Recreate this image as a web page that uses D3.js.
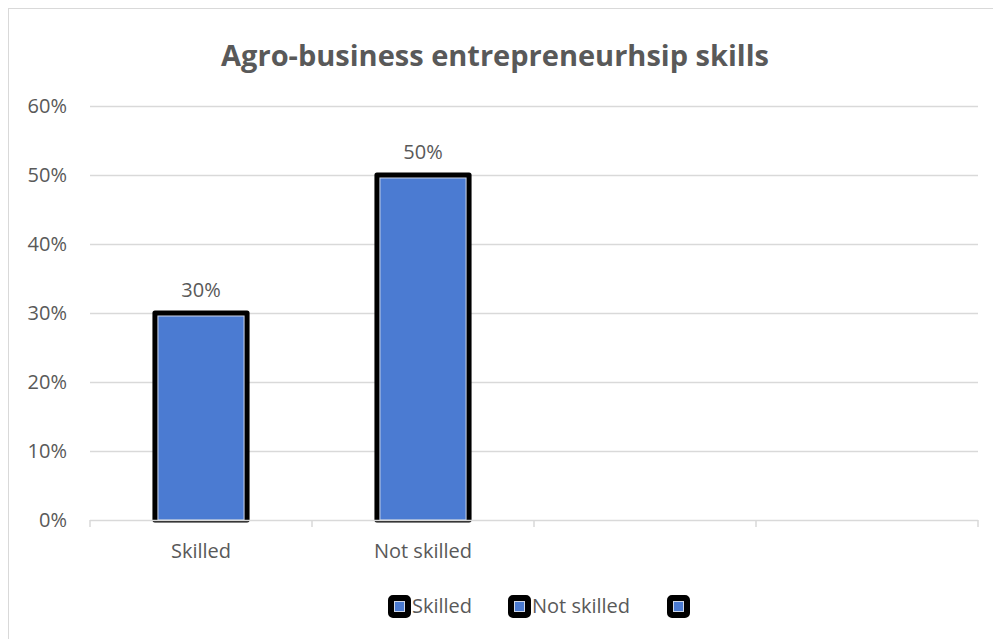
<!DOCTYPE html>
<html>
<head>
<meta charset="utf-8">
<script src="https://cdn.jsdelivr.net/npm/d3@7"></script>
<style>
  html, body { margin: 0; padding: 0; background: #fff; }
  svg text { font-family: "Open Sans", "Noto Sans", sans-serif; fill: #595959; }
</style>
</head>
<body>
<svg id="chart" width="993" height="639"></svg>
<script>
// chart data
const categories = ["Skilled", "Not skilled", "", ""];
const values = [0.30, 0.50, null, null];
const legendLabels = ["Skilled", "Not skilled", ""];
const yTicks = [0, 0.1, 0.2, 0.3, 0.4, 0.5, 0.6];
const title = "Agro-business entrepreneurhsip skills";

const svg = d3.select("svg#chart");
const W = 993, H = 639;
const m = { left: 90, right: 15, top: 106, bottom: 119 };

// frame (right and bottom edges fall outside the picture)
svg.append("rect")
  .attr("x", 8.5).attr("y", 8.5)
  .attr("width", W + 20).attr("height", H + 20)
  .attr("fill", "#fff").attr("stroke", "#d9d9d9").attr("stroke-width", 1);

svg.append("text")
  .attr("x", 495).attr("y", 66)
  .attr("text-anchor", "middle")
  .style("font-size", "29px").style("font-weight", "bold")
  .text(title);

const x = d3.scaleBand()
  .domain(d3.range(categories.length))
  .range([m.left, W - m.right]);

const y = d3.scaleLinear()
  .domain([0, 0.6])
  .range([H - m.bottom, m.top]);

// gridlines
svg.append("g")
  .selectAll("line")
  .data(yTicks.filter(d => d > 0))
  .join("line")
  .attr("x1", m.left).attr("x2", W - m.right)
  .attr("y1", d => Math.round(y(d)) + 0.5).attr("y2", d => Math.round(y(d)) + 0.5)
  .attr("stroke", "#d9d9d9").attr("stroke-width", 1.5);

// y labels
let yAxis = d3.axisLeft(y).tickValues(yTicks).tickFormat(d3.format(".0%")).tickSize(0).tickPadding(23);
let gy = svg.append("g").attr("transform", `translate(${m.left},0)`).call(yAxis);
gy.select(".domain").remove();
gy.selectAll("text").style("font-size", "20px").style("fill", "#595959").attr("font-family", null);

// bars
const barW = x.bandwidth() * 0.415;
const bars = svg.append("g")
  .selectAll("g")
  .data(values.map((v, i) => ({ v, i })).filter(d => d.v != null))
  .join("g");

bars.append("rect")
  .attr("x", d => x(d.i) + x.bandwidth() / 2 - barW / 2)
  .attr("y", d => y(d.v))
  .attr("width", barW)
  .attr("height", d => y(0) - y(d.v))
  .attr("fill", "#000").attr("stroke", "#000").attr("stroke-width", 5)
  .attr("stroke-linejoin", "round");

bars.append("rect")
  .attr("x", d => x(d.i) + x.bandwidth() / 2 - barW / 2 + 3)
  .attr("y", d => y(d.v) + 3)
  .attr("width", barW - 6)
  .attr("height", d => y(0) - y(d.v) - 3)
  .attr("fill", "#4b7bd2").attr("stroke", "#cdd6e8").attr("stroke-width", 1);

bars.append("text")
  .attr("x", d => x(d.i) + x.bandwidth() / 2)
  .attr("y", d => y(d.v) - 16)
  .attr("text-anchor", "middle")
  .style("font-size", "20px")
  .text(d => d3.format(".0%")(d.v));

// x axis
const xAxisLine = svg.append("g");
xAxisLine.append("line")
  .attr("x1", m.left).attr("x2", W - m.right)
  .attr("y1", y(0) + 0.5).attr("y2", y(0) + 0.5)
  .attr("stroke", "#d9d9d9").attr("stroke-width", 1.5);
xAxisLine.selectAll("line.tick")
  .data(d3.range(categories.length + 1))
  .join("line").attr("class", "tick")
  .attr("x1", i => i < categories.length ? x(i) : x.range()[1])
  .attr("x2", i => i < categories.length ? x(i) : x.range()[1])
  .attr("y1", y(0)).attr("y2", y(0) + 7)
  .attr("stroke", "#d9d9d9").attr("stroke-width", 1.5);

svg.append("g")
  .selectAll("text")
  .data(categories)
  .join("text")
  .attr("x", (d, i) => x(i) + x.bandwidth() / 2)
  .attr("y", y(0) + 38)
  .attr("text-anchor", "middle")
  .style("font-size", "20px")
  .text(d => d);

// legend
const legendX = [388, 508, 667];
const lg = svg.append("g")
  .selectAll("g")
  .data(legendLabels)
  .join("g")
  .attr("transform", (d, i) => `translate(${legendX[i]},595)`);
lg.append("rect")
  .attr("x", 2).attr("y", 2).attr("width", 19).attr("height", 19)
  .attr("rx", 3)
  .attr("fill", "#000").attr("stroke", "#000").attr("stroke-width", 4);
lg.append("rect")
  .attr("x", 6.5).attr("y", 6.5).attr("width", 10).attr("height", 10)
  .attr("fill", "#4b7bd2").attr("stroke", "#cdd6e8").attr("stroke-width", 1);
lg.append("text")
  .attr("x", 24).attr("y", 18)
  .style("font-size", "20px")
  .text(d => d);
</script>
</body>
</html>
